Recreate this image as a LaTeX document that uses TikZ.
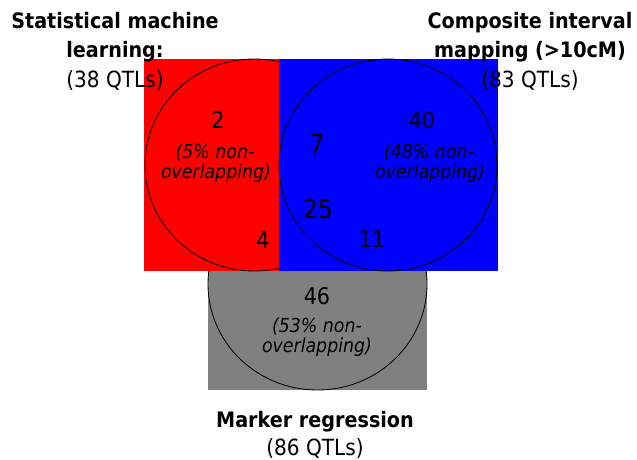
\documentclass[tikz,border=0pt]{standalone}
\usepackage{fontspec}
\setmainfont{DejaVu Sans Condensed}
\begin{document}
\begin{tikzpicture}[x=1pt,y=-1pt,
  title/.style={font=\bfseries\fontsize{21.3}{24}\selectfont,anchor=base,inner sep=0pt,text=black},
  sub/.style={font=\fontsize{22.3}{25}\selectfont,anchor=base,inner sep=0pt,text=black},
  num/.style={font=\fontsize{23}{27}\selectfont,anchor=base,inner sep=0pt},
  bignum/.style={font=\fontsize{26}{30}\selectfont,anchor=base,inner sep=0pt},
  pct/.style={font=\itshape\fontsize{19.3}{22}\selectfont,anchor=base,inner sep=0pt},
  ring/.style={draw=black,line width=0.8pt}]
\useasboundingbox (0,0) rectangle (637,459);
% gray set
\fill[fill={rgb,255:red,128;green,128;blue,128}] (208,271) rectangle (427,390);
\draw[ring] (317.5,284) ellipse [x radius=109.5pt, y radius=106pt];
% red set
\fill[fill={rgb,255:red,255;green,0;blue,0}] (144,59) rectangle (279,271);
\draw[ring] (254,165) ellipse [x radius=109pt, y radius=106pt];
% blue set
\fill[fill={rgb,255:red,0;green,0;blue,255}] (279,59) rectangle (498,271);
\draw[ring] (388,165) ellipse [x radius=109pt, y radius=106pt];
% titles
\node[title] (t1a) at (115,28) {Statistical machine};
\node[title] (t1b) at (115,57) {learning:};
\node[sub] (t1c) at (115,87) {(38 QTLs)};
\node[title] (t2a) at (530,28) {Composite interval};
\node[title] (t2b) at (530,57) {mapping (>10cM)};
\node[sub] (t2c) at (530,87) {(83 QTLs)};
\node[title] (t3a) at (315,427) {Marker regression};
\node[sub] (t3b) at (315,455) {(86 QTLs)};
% counts
\node[num] (n2) at (218,128) {2};
\node[pct] (p1a) at (215,158) {(5\% non-};
\node[pct] (p1b) at (216,178) {overlapping)};
\node[num] (n4) at (263,248) {4};
\node[bignum] (n7) at (317,153) {7};
\node[bignum] (n25) at (318,218) {25};
\node[num] (n40) at (422,128) {40};
\node[pct] (p2a) at (429,158) {(48\% non-};
\node[pct] (p2b) at (430,178) {overlapping)};
\node[num] (n11) at (372,247) {11};
\node[num] (n46) at (317,304) {46};
\node[pct] (p3a) at (317,332) {(53\% non-};
\node[pct] (p3b) at (317,352) {overlapping)};
\end{tikzpicture}
\end{document}
